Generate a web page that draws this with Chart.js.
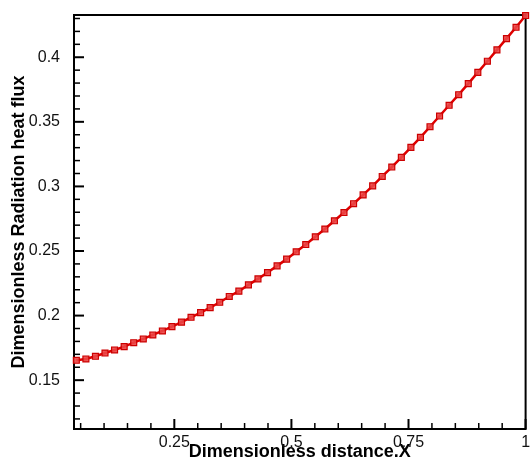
<!DOCTYPE html>
<html lang="en">
<head>
    <meta charset="UTF-8">
    <title>Dimensionless Radiation heat flux</title>
    <script src="https://cdn.jsdelivr.net/npm/chart.js"></script>
    <style>
        body { margin: 0; background: #fff; }
        #wrap { width: 531px; height: 464px; }
    </style>
</head>
<body>
    <div id="wrap"><canvas id="fluxChart" width="531" height="464"></canvas></div>

    <script>
        // x positions of the samples (dimensionless distance)
        const xValues = [
            0.0408, 0.0612, 0.0816, 0.1020, 0.1224, 0.1429, 0.1633, 0.1837, 0.2041, 0.2245,
            0.2449, 0.2653, 0.2857, 0.3061, 0.3265, 0.3469, 0.3673, 0.3878, 0.4082, 0.4286,
            0.4490, 0.4694, 0.4898, 0.5102, 0.5306, 0.5510, 0.5714, 0.5918, 0.6122, 0.6327,
            0.6531, 0.6735, 0.6939, 0.7143, 0.7347, 0.7551, 0.7755, 0.7959, 0.8163, 0.8367,
            0.8571, 0.8776, 0.8980, 0.9184, 0.9388, 0.9592, 0.9796, 1.0000
        ];
        // radiation heat flux
        const fluxValues = [
            0.1654, 0.1664, 0.1685, 0.1710, 0.1734, 0.1760, 0.1790, 0.1819, 0.1850, 0.1881,
            0.1915, 0.1949, 0.1987, 0.2023, 0.2062, 0.2103, 0.2148, 0.2189, 0.2238, 0.2284,
            0.2333, 0.2385, 0.2437, 0.2494, 0.2550, 0.2610, 0.2670, 0.2734, 0.2798, 0.2866,
            0.2934, 0.3004, 0.3077, 0.3150, 0.3225, 0.3302, 0.3380, 0.3462, 0.3545, 0.3628,
            0.3710, 0.3796, 0.3883, 0.3969, 0.4057, 0.4144, 0.4232, 0.4323
        ];
        const xTicks = [0.25, 0.5, 0.75, 1];
        const xMinorTicks = [0.05, 0.1, 0.15, 0.2, 0.3, 0.35, 0.4, 0.45, 0.55, 0.6, 0.65, 0.7, 0.8, 0.85, 0.9, 0.95];
        const yTicks = [0.15, 0.2, 0.25, 0.3, 0.35, 0.4];
        const yMinorTicks = [0.12, 0.13, 0.14, 0.16, 0.17, 0.18, 0.19, 0.21, 0.22, 0.23, 0.24,
            0.26, 0.27, 0.28, 0.29, 0.31, 0.32, 0.33, 0.34, 0.36, 0.37, 0.38, 0.39, 0.41, 0.42, 0.43];

        Chart.defaults.font.family = '"Liberation Sans", Arial, sans-serif';
        Chart.defaults.color = '#111';

        const fmt = v => String(Number(Number(v).toFixed(2)));

        // box round the plot plus inward ticks on the left and bottom axes
        const frameTicks = {
            id: 'frameTicks',
            beforeDatasetsDraw(chart) {
                const ctx = chart.ctx;
                const a = chart.chartArea;
                const xs = chart.scales.x, ys = chart.scales.y;
                ctx.save();
                ctx.strokeStyle = '#000';
                ctx.lineWidth = 2;
                ctx.strokeRect(a.left, a.top, a.right - a.left, a.bottom - a.top);

                function tick(p, len, w, vertical) {
                    ctx.lineWidth = w;
                    ctx.beginPath();
                    if (vertical) {
                        ctx.moveTo(p, a.bottom);
                        ctx.lineTo(p, a.bottom - len);
                    } else {
                        ctx.moveTo(a.left, p);
                        ctx.lineTo(a.left + len, p);
                    }
                    ctx.stroke();
                }
                xTicks.forEach(v => tick(xs.getPixelForValue(v), 10, 2, true));
                xMinorTicks.forEach(v => tick(xs.getPixelForValue(v), 6, 1.5, true));
                yTicks.forEach(v => tick(ys.getPixelForValue(v), 10, 2, false));
                yMinorTicks.forEach(v => tick(ys.getPixelForValue(v), 6, 1.5, false));
                ctx.restore();
            }
        };

        new Chart(document.getElementById('fluxChart'), {
            type: 'line',
            data: {
                datasets: [{
                    label: 'Radiation heat flux',
                    data: xValues.map((x, i) => ({ x: x, y: fluxValues[i] })),
                    borderColor: '#e00000',
                    borderWidth: 2.5,
                    pointStyle: 'rect',
                    pointRadius: 4.2,
                    pointBackgroundColor: 'rgba(235,70,70,0.9)',
                    pointBorderColor: '#cc0000',
                    pointBorderWidth: 1.2,
                    tension: 0,
                    clip: false
                }]
            },
            options: {
                responsive: false,
                animation: false,
                layout: { padding: { top: 15, right: 4, left: 0, bottom: 0 } },
                plugins: {
                    legend: { display: false },
                    tooltip: { enabled: false }
                },
                scales: {
                    x: {
                        type: 'linear',
                        min: 0.0358,
                        max: 1,
                        grid: { display: false },
                        border: { display: false },
                        afterBuildTicks: s => { s.ticks = xTicks.map(v => ({ value: v })); },
                        afterFit: s => { s.height = 35; s.paddingLeft = 0; s.paddingRight = 0; },
                        ticks: { font: { size: 16 }, padding: -4, maxRotation: 0, callback: fmt },
                        title: {
                            display: true,
                            text: 'Dimensionless distance.X',
                            font: { size: 18, weight: 'bold' },
                            color: '#000',
                            padding: { top: 0, bottom: 1 }
                        }
                    },
                    y: {
                        min: 0.1122,
                        max: 0.4327,
                        grid: { display: false },
                        border: { display: false },
                        afterBuildTicks: s => { s.ticks = yTicks.map(v => ({ value: v })); },
                        afterFit: s => { s.width = 74; s.paddingTop = 0; s.paddingBottom = 0; },
                        ticks: { font: { size: 16 }, padding: 6, callback: fmt },
                        title: {
                            display: true,
                            text: 'Dimensionless Radiation heat flux',
                            font: { size: 18, weight: 'bold' },
                            color: '#000',
                            padding: { top: 8, bottom: 0 }
                        }
                    }
                }
            },
            plugins: [frameTicks]
        });
    </script>
</body>
</html>
